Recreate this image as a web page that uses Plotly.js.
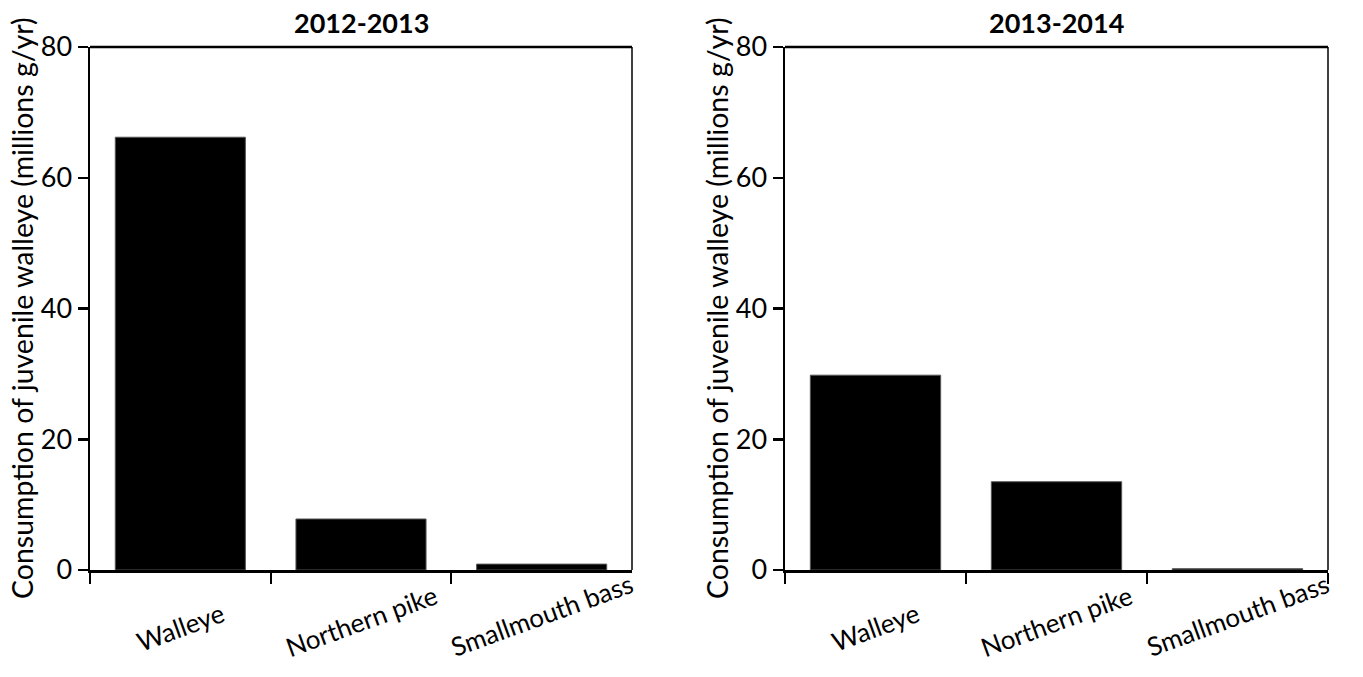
<!DOCTYPE html>
<html><head><meta charset="utf-8">
<script src="https://cdn.plot.ly/plotly-3.0.1.min.js"></script>
<style>html,body{margin:0;padding:0;background:#fff}#chart{width:1363px;height:677px}</style>
</head><body><div id="chart"></div>
<script>
const categories = ["Walleye", "Northern pike", "Smallmouth bass"];
const values2012 = [66.2, 7.8, 0.9];
const values2013 = [29.8, 13.5, 0.2];
const panelTitles = ["2012-2013", "2013-2014"];
const yTitle = "Consumption of juvenile walleye (millions g/yr)";
const yTicks = [0, 20, 40, 60, 80];

const FONT = "Lato, 'Open Sans', sans-serif";
const traces = [
  {type:'bar', x:categories, y:values2012, xaxis:'x', yaxis:'y',
   marker:{color:'#000', line:{color:'#555', width:1}}, showlegend:false, hoverinfo:'skip'},
  {type:'bar', x:categories, y:values2013, xaxis:'x2', yaxis:'y2',
   marker:{color:'#000', line:{color:'#555', width:1}}, showlegend:false, hoverinfo:'skip'}
];

function xax(domain, anchor){
  return {domain:domain, anchor:anchor, type:'category', range:[-0.5,2.5],
    showticklabels:false, ticks:'outside', tickson:'boundaries', ticklen:11, tickwidth:2, tickcolor:'#000',
    showline:true, linecolor:'#000', linewidth:2.5, mirror:false, showgrid:false, zeroline:false, fixedrange:true};
}
function yax(domain, anchor){
  return {domain:domain, anchor:anchor, range:[0,80], tickvals:yTicks, ticktext:yTicks.map(String),
    ticks:'outside', ticklen:10, tickwidth:2.5, tickcolor:'#000',
    tickfont:{family:FONT, size:27, color:'#000'},
    showline:true, linecolor:'#000', linewidth:2.5, mirror:false, showgrid:false, zeroline:false, fixedrange:true};
}

const yDom = [1-570/677, 1-47/677];
const xDom1 = [90/1363, 632/1363];
const xDom2 = [785/1363, 1328/1363];

const shapes = [];
[['x','y',xDom1],['x2','y2',xDom2]].forEach(([xa,ya,d])=>{
  shapes.push({type:'line', xref:'paper', yref:'paper', x0:d[0], x1:d[1], y0:yDom[1], y1:yDom[1], line:{color:'#000', width:2.5}});
  shapes.push({type:'line', xref:'paper', yref:'paper', x0:d[1], x1:d[1], y0:yDom[0], y1:yDom[1], line:{color:'#000', width:1.5}});
});

const annotations = [];
[[xDom1,'x'],[xDom2,'x2']].forEach(([d,xa],i)=>{
  annotations.push({text:'<b>'+panelTitles[i]+'</b>', xref:'paper', yref:'paper',
    x:(d[0]+d[1])/2, y:1-22/677, showarrow:false, xanchor:'center', yanchor:'middle',
    font:{family:FONT, size:27, color:'#000'}});
  annotations.push({text:yTitle, xref:'paper', yref:'paper', x:(d[0]*1363-68)/1363, y:1-308/677,
    textangle:-90, showarrow:false, xanchor:'center', yanchor:'middle',
    font:{family:FONT, size:28.5, color:'#000'}});
  categories.forEach((c,k)=>{
    annotations.push({text:c, xref:xa, yref:'paper', x:c, y:1-(627-k*6)/677, textangle:-20,
      showarrow:false, xanchor:'center', yanchor:'middle', font:{family:FONT, size:26, color:'#000'}});
  });
});

const layout = {
  width:1363, height:677, margin:{l:0,r:0,t:0,b:0},
  paper_bgcolor:'#fff', plot_bgcolor:'#fff', bargap:0.28,
  xaxis:xax(xDom1,'y'), yaxis:yax(yDom,'x'),
  xaxis2:xax(xDom2,'y2'), yaxis2:yax(yDom,'x2'),
  shapes:shapes, annotations:annotations, showlegend:false
};
Plotly.newPlot('chart', traces, layout, {displayModeBar:false, staticPlot:true});
</script></body></html>
